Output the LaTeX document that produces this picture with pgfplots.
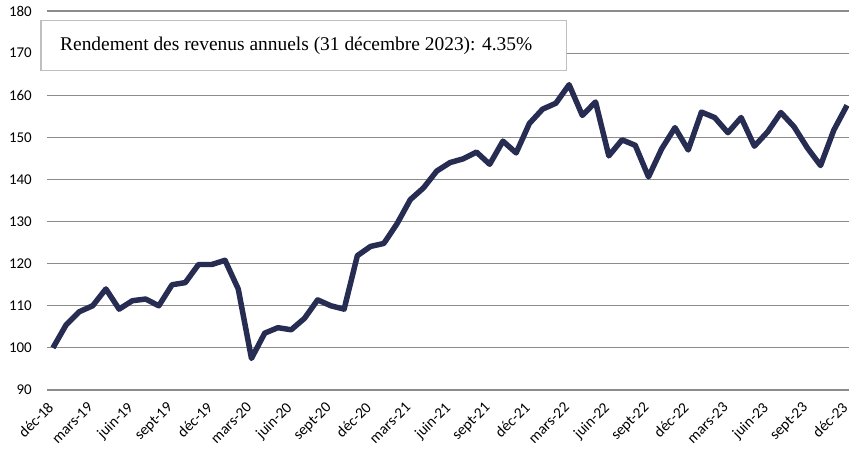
\documentclass[border=0pt]{standalone}
\usepackage{pgfplots}
\pgfplotsset{compat=1.18}
\usepackage{fontspec}
\setmainfont{Carlito}
\newfontfamily\titlefont{Liberation Serif}
\definecolor{navy}{HTML}{262C52}
\definecolor{gridgray}{HTML}{8C8C8C}
\begin{document}
\begin{tikzpicture}
\begin{axis}[
  at={(0,0)}, anchor=south west,
  scale only axis,
  width=802bp, height=379bp,
  xmin=-0.45, xmax=60.15,
  ymin=90, ymax=180,
  ytick={90,100,...,180},
  xtick={0,3,...,60},
  xticklabels={déc-18,mars-19,juin-19,sept-19,déc-19,mars-20,juin-20,sept-20,déc-20,mars-21,juin-21,sept-21,déc-21,mars-22,juin-22,sept-22,déc-22,mars-23,juin-23,sept-23,déc-23},
  xticklabel style={rotate=45, anchor=north east, font=\fontsize{15.3}{17}\selectfont, inner sep=0pt, xshift=-12bp, yshift=-3.5bp},
  yticklabel style={font=\fontsize{15}{17}\selectfont, inner sep=0pt, xshift=-15bp},
  /pgf/number format/assume math mode=true,
  ymajorgrids,
  major grid style={gridgray, line width=1.2pt},
  axis line style={draw=none},
  major tick length=0pt,
  clip=false,
]
\draw[gray!50, line width=1.2pt, fill=white] (rel axis cs:-0.0075,0.842) rectangle (rel axis cs:0.648,0.974);
\node[anchor=west, font=\titlefont\fontsize{19.5}{22}\selectfont, inner sep=0pt] at (rel axis cs:0.0162,0.908) {Rendement des revenus annuels (31 décembre 2023): 4.35\%};
\addplot[navy, line width=5.5pt, line join=round, mark=none] coordinates {
(0,100) (1,105.5) (2,108.6) (3,110) (4,114) (5,109.2) (6,111.2) (7,111.6) (8,110) (9,115) (10,115.5) (11,119.8) (12,119.8) (13,120.8) (14,114) (15,97.5) (16,103.5) (17,104.8) (18,104.3) (19,107) (20,111.4) (21,110) (22,109.2) (23,121.9) (24,124.1) (25,124.8) (26,129.5) (27,135.2) (28,138) (29,142) (30,144) (31,144.9) (32,146.5) (33,143.6) (34,149.1) (35,146.3) (36,153.3) (37,156.7) (38,158.1) (39,162.5) (40,155.2) (41,158.4) (42,145.6) (43,149.4) (44,148.1) (45,140.6) (46,147.3) (47,152.3) (48,147) (49,156) (50,154.7) (51,151.1) (52,154.7) (53,147.9) (54,151.3) (55,155.9) (56,152.5) (57,147.5) (58,143.3) (59,151.7) (60,157.6)
};
\end{axis}
\pgfresetboundingbox
\path (-47bp,-60bp) rectangle (802bp,390bp);
\end{tikzpicture}
\end{document}
